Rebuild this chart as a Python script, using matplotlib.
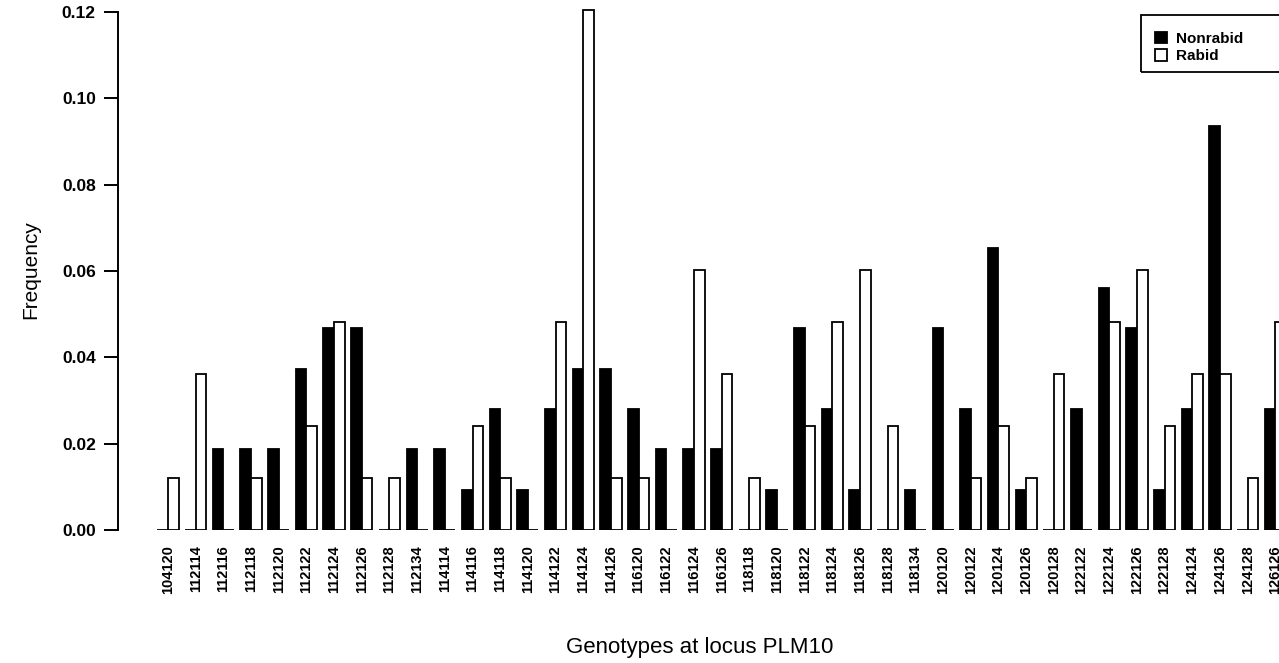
import matplotlib
matplotlib.use("Agg")
import matplotlib.pyplot as plt
from matplotlib.patches import Rectangle
import numpy as np

genotypes = ["104120", "112114", "112116", "112118", "112120", "112122", "112124",
             "112126", "112128", "112134", "114114", "114116", "114118", "114120",
             "114122", "114124", "114126", "116120", "116122", "116124", "116126",
             "118118", "118120", "118122", "118124", "118126", "118128", "118134",
             "120120", "120122", "120124", "120126", "120128", "122122", "122124",
             "122126", "122128", "124124", "124126", "124128", "126126"]

nonrabid = [0.0, 0.0, 0.0187, 0.0187, 0.0187, 0.0374, 0.0467,
            0.0467, 0.0, 0.0187, 0.0187, 0.0093, 0.0280, 0.0093,
            0.0280, 0.0374, 0.0374, 0.0280, 0.0187, 0.0187, 0.0187,
            0.0, 0.0093, 0.0467, 0.0280, 0.0093, 0.0, 0.0093,
            0.0467, 0.0280, 0.0654, 0.0093, 0.0, 0.0280, 0.0561,
            0.0467, 0.0093, 0.0280, 0.0935, 0.0, 0.0280]

rabid = [0.0120, 0.0361, 0.0, 0.0120, 0.0, 0.0241, 0.0482,
         0.0120, 0.0120, 0.0, 0.0, 0.0241, 0.0120, 0.0,
         0.0482, 0.1205, 0.0120, 0.0120, 0.0, 0.0602, 0.0361,
         0.0120, 0.0, 0.0241, 0.0482, 0.0602, 0.0241, 0.0,
         0.0, 0.0120, 0.0241, 0.0120, 0.0361, 0.0, 0.0482,
         0.0602, 0.0241, 0.0361, 0.0361, 0.0120, 0.0482]

yticks = [0.00, 0.02, 0.04, 0.06, 0.08, 0.10, 0.12]

plt.rcParams['font.family'] = ['Liberation Sans', 'DejaVu Sans']

W, H = 1279, 663
fig = plt.figure(figsize=(W / 100, H / 100), dpi=100)

ax_left = 118 / W
ax_bottom = (H - 530) / H
ax_top_val = 0.122
px_per_unit = 518 / 0.12
ax_height = ax_top_val * px_per_unit / H
ax = fig.add_axes([ax_left, ax_bottom, 1.0 - ax_left, ax_height])

bw = 1.15
centers = np.arange(len(genotypes)) * 3.0
ax.bar(centers - bw / 2, nonrabid, width=bw, color='black', edgecolor='black',
       linewidth=1.3, label='Nonrabid')
ax.bar(centers + bw / 2, rabid, width=bw, color='white', edgecolor='black',
       linewidth=1.3, label='Rabid')

ax.set_xlim(-5.42, 120.4)
ax.set_ylim(0, ax_top_val)

for s in ['top', 'right', 'bottom']:
    ax.spines[s].set_visible(False)
ax.spines['left'].set_bounds(0, 0.12)
ax.spines['left'].set_linewidth(1.4)

ax.set_yticks(yticks)
ax.set_yticklabels([f"{v:.2f}" for v in yticks], fontsize=12.5, fontweight='bold')
ax.tick_params(axis='y', length=10, width=1.4, pad=6)

ax.set_xticks(centers)
ax.set_xticklabels(genotypes, rotation=90, fontsize=10.5, fontweight='bold')
ax.tick_params(axis='x', length=0, pad=11)

fig.text(31 / W, 1 - 270 / H, "Frequency", rotation=90, ha='center', va='center',
         fontsize=15)
fig.text(700 / W, 1 - 648 / H, "Genotypes at locus PLM10", ha='center', va='center',
         fontsize=16)

leg = ax.legend(loc='upper left', bbox_to_anchor=(1147 / W, 1 - 24 / H),
                bbox_transform=fig.transFigure, frameon=False,
                handlelength=0.8, handleheight=0.8, handletextpad=0.6,
                borderpad=0.0, labelspacing=0.2,
                prop={'weight': 'bold', 'size': 11})

frame = Rectangle((1141 / W, 1 - 72 / H), 160 / W, 57 / H, transform=fig.transFigure,
                  facecolor='none', edgecolor='black', linewidth=1.3, clip_on=False)
fig.add_artist(frame)

fig.savefig("out.png", dpi=100)
